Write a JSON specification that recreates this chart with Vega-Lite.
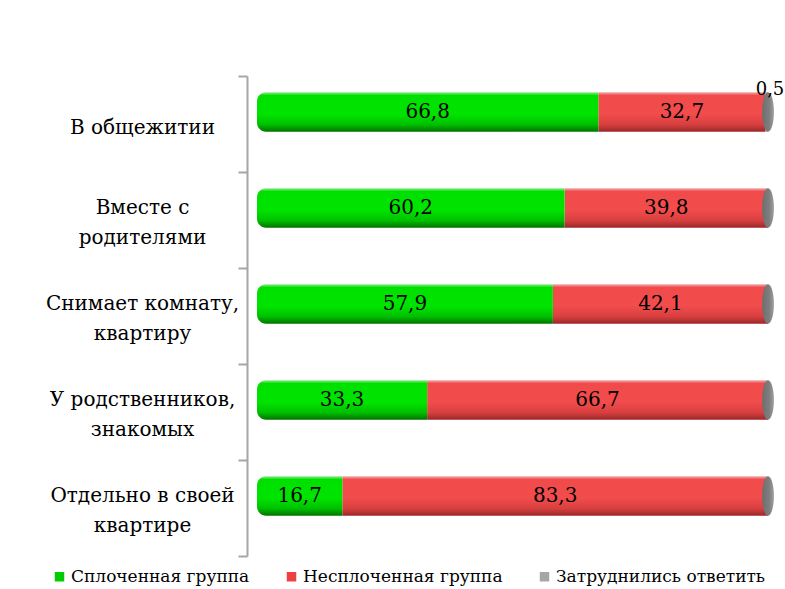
{
  "$schema": "https://vega.github.io/schema/vega-lite/v6.json",
  "width": 511,
  "height": 480,
  "autosize": {"type": "none"},
  "padding": {"left": 257, "top": 76, "right": 17, "bottom": 33},
  "config": {
    "view": {"stroke": null},
    "font": "DejaVu Serif",
    "locale": {"number": {"decimal": ",", "thousands": " ", "grouping": [3], "currency": ["", ""]}}
  },
  "data": {
    "values": [
      {"cat": "В общежитии", "group": "Сплоченная группа", "k": 1, "value": 66.8},
      {"cat": "В общежитии", "group": "Несплоченная группа", "k": 2, "value": 32.7},
      {"cat": "В общежитии", "group": "Затруднились ответить", "k": 3, "value": 0.5},
      {"cat": "Вместе с\nродителями", "group": "Сплоченная группа", "k": 1, "value": 60.2},
      {"cat": "Вместе с\nродителями", "group": "Несплоченная группа", "k": 2, "value": 39.8},
      {"cat": "Снимает комнату,\nквартиру", "group": "Сплоченная группа", "k": 1, "value": 57.9},
      {"cat": "Снимает комнату,\nквартиру", "group": "Несплоченная группа", "k": 2, "value": 42.1},
      {"cat": "У родственников,\nзнакомых", "group": "Сплоченная группа", "k": 1, "value": 33.3},
      {"cat": "У родственников,\nзнакомых", "group": "Несплоченная группа", "k": 2, "value": 66.7},
      {"cat": "Отдельно в своей\nквартире", "group": "Сплоченная группа", "k": 1, "value": 16.7},
      {"cat": "Отдельно в своей\nквартире", "group": "Несплоченная группа", "k": 2, "value": 83.3}
    ]
  },
  "transform": [
    {"stack": "value", "groupby": ["cat"], "sort": [{"field": "k", "order": "ascending"}], "as": ["x0", "x1"]}
  ],
  "encoding": {
    "y": {
      "field": "cat",
      "type": "nominal",
      "sort": null,
      "scale": {"paddingInner": 0, "paddingOuter": 0},
      "axis": {
        "title": null,
        "offset": 10,
        "domainColor": "#a6a6a6",
        "domainWidth": 2,
        "tickColor": "#a6a6a6",
        "tickWidth": 2,
        "tickSize": 9,
        "tickBand": "extent",
        "labelAlign": "center",
        "labelBaseline": "middle",
        "labelPadding": 96,
        "labelFont": "DejaVu Serif",
        "labelFontSize": 20,
        "labelColor": "#000000",
        "labelLineHeight": 30,
        "labelLimit": 300,
        "labelOffset": {"condition": {"test": "datum.value && indexof(datum.value, '\\n') >= 0", "value": -13}, "value": 3},
        "labelExpr": "datum.value ? split(datum.value, '\\n') : ''"
      }
    }
  },
  "layer": [
    {
      "transform": [{"filter": "datum.k == 3"}],
      "mark": {"type": "bar", "height": {"band": 0.41}, "yOffset": -12},
      "encoding": {
        "x": {"field": "x0", "type": "quantitative", "scale": {"domain": [0, 100], "nice": false}, "axis": null},
        "x2": {"field": "x1"},
        "color": {
          "field": "group",
          "type": "nominal",
          "scale": {
            "domain": ["Сплоченная группа", "Несплоченная группа", "Затруднились ответить"],
            "range": ["#00cc00", "#ee4040", "#a6a6a6"]
          },
          "legend": {
            "title": null,
            "orient": "none",
            "legendX": -206,
            "legendY": 492,
            "direction": "horizontal",
            "symbolType": "square",
            "symbolSize": 90,
            "symbolStrokeWidth": 0,
            "labelFont": "DejaVu Serif",
            "labelFontSize": 17,
            "labelColor": "#000000",
            "labelOffset": 3,
            "labelLimit": 300,
            "columnPadding": 33
          }
        }
      }
    },
    {
      "transform": [{"filter": "datum.k == 2"}],
      "mark": {
        "type": "bar",
        "height": {"band": 0.41},
        "yOffset": -12,
        "fill": {
          "gradient": "linear", "x1": 0, "y1": 0, "x2": 0, "y2": 1,
          "stops": [
            {"offset": 0, "color": "#f4a8a8"},
            {"offset": 0.08, "color": "#f04a4a"},
            {"offset": 0.55, "color": "#f24c4c"},
            {"offset": 0.82, "color": "#d83f3f"},
            {"offset": 1, "color": "#9a2828"}
          ]
        }
      },
      "encoding": {
        "x": {"field": "x0", "type": "quantitative", "scale": {"domain": [0, 100], "nice": false}, "axis": null},
        "x2": {"field": "x1"}
      }
    },
    {
      "transform": [{"filter": "datum.k == 1"}],
      "mark": {
        "type": "bar",
        "height": {"band": 0.41},
        "yOffset": -12,
        "cornerRadiusTopLeft": 9,
        "cornerRadiusBottomLeft": 9,
        "fill": {
          "gradient": "linear", "x1": 0, "y1": 0, "x2": 0, "y2": 1,
          "stops": [
            {"offset": 0, "color": "#90ec90"},
            {"offset": 0.08, "color": "#00e000"},
            {"offset": 0.55, "color": "#00e400"},
            {"offset": 0.82, "color": "#00bf00"},
            {"offset": 1, "color": "#007400"}
          ]
        }
      },
      "encoding": {
        "x": {"field": "x0", "type": "quantitative", "scale": {"domain": [0, 100], "nice": false}, "axis": null},
        "x2": {"field": "x1"}
      }
    },
    {
      "transform": [{"filter": "datum.k == 1"}],
      "mark": {
        "type": "point",
        "filled": true,
        "opacity": 1,
        "size": 1560,
        "yOffset": -12,
        "shape": "M0,-1A0.3,1,0,1,1,0,1A0.3,1,0,1,1,0,-1Z",
        "fill": {
          "gradient": "linear", "x1": 0, "y1": 0, "x2": 1, "y2": 0,
          "stops": [
            {"offset": 0, "color": "#6e6e6e"},
            {"offset": 0.6, "color": "#7e7e7e"},
            {"offset": 1, "color": "#a0a0a0"}
          ]
        }
      },
      "encoding": {
        "x": {"datum": 100, "type": "quantitative", "scale": {"domain": [0, 100], "nice": false}, "axis": null}
      }
    },
    {
      "transform": [{"filter": "datum.k != 3"}],
      "mark": {"type": "text", "font": "DejaVu Serif", "fontSize": 20, "color": "#000000", "baseline": "middle", "yOffset": -12},
      "encoding": {
        "x": {"field": "value", "type": "quantitative", "stack": "zero", "bandPosition": 0.5, "scale": {"domain": [0, 100], "nice": false}, "axis": null},
        "detail": {"field": "group"},
        "order": {"field": "k"},
        "text": {"field": "value", "type": "quantitative", "format": ".1f"}
      }
    },
    {
      "transform": [{"filter": "datum.k == 3"}],
      "mark": {"type": "text", "font": "DejaVu Serif", "fontSize": 18, "color": "#000000", "baseline": "middle", "yOffset": -12, "dy": -22, "dx": 2},
      "encoding": {
        "x": {"field": "x1", "type": "quantitative", "scale": {"domain": [0, 100], "nice": false}, "axis": null},
        "text": {"field": "value", "type": "quantitative", "format": ".1f"}
      }
    }
  ]
}
